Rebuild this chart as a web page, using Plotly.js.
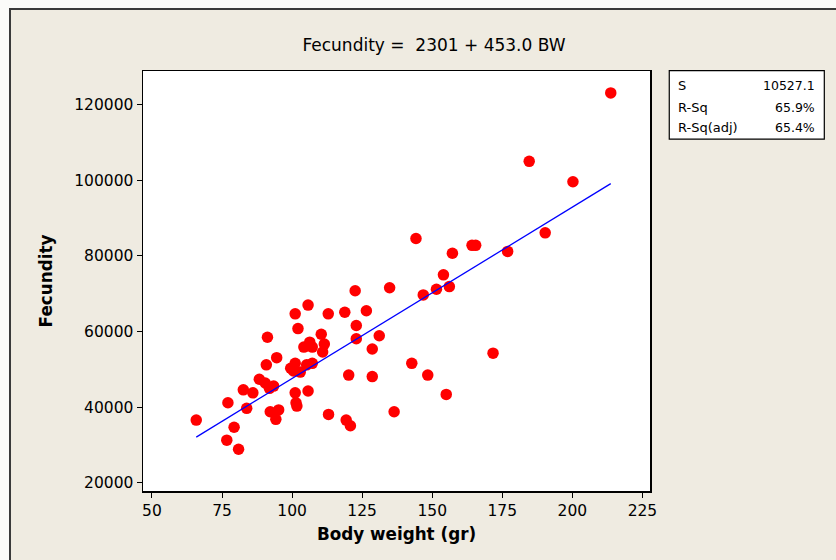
<!DOCTYPE html>
<html>
<head>
<meta charset="utf-8">
<script src="https://cdn.plot.ly/plotly-3.0.1.min.js"></script>
<style>
  html, body { margin: 0; padding: 0; background: #fbfbf9; }
  #frame { position: absolute; left: 9px; top: 8px; width: 840px; height: 560px;
           background: #EFEBE1; border: 2px solid #3a3a3a; }
  #chart { position: absolute; left: 0; top: 0; width: 836px; height: 560px; }
</style>
</head>
<body>
<div id="frame"></div>
<div id="chart"></div>
<script>
// Body weight (gr)
const bodyWeight = [
  65.8, 77.1, 79.3, 76.7, 80.9, 82.6, 83.8, 86.0, 88.3, 90.4,
  91.9, 93.4, 92.2, 94.2, 95.2, 90.8, 91.2, 94.5, 99.5, 100.5,
  101.1, 102.9, 105.2, 107.2, 101.1, 105.7, 101.4, 101.7, 113.0, 101.1,
  105.7, 102.1, 112.9, 110.4, 111.5, 104.2, 106.3, 107.2, 110.9, 118.8,
  126.5, 122.9, 122.9, 131.1, 128.6, 120.2, 128.6, 119.3, 120.8, 122.5,
  134.8, 136.4, 142.7, 148.4, 155.0, 144.2, 146.8, 151.5, 154.0, 156.1,
  157.2, 164.2, 165.5, 171.7, 176.9, 190.3, 184.6, 200.2, 213.7
];
// Fecundity
const fecundity = [
  36600, 41200, 34700, 31300, 28900, 44600, 39700, 43800, 47400, 46400,
  45000, 45600, 38800, 36800, 39300, 51200, 58500, 53100, 50300, 49600,
  51600, 49300, 51200, 51600, 43800, 44300, 41200, 40300, 38100, 64700,
  67000, 60800, 64700, 59300, 56700, 55900, 57200, 55900, 54600, 65100,
  65500, 61600, 58100, 58900, 55400, 48500, 48100, 36600, 35100, 70800,
  71600, 38800, 51600, 48500, 43400, 84600, 69700, 71200, 75000, 71900,
  80700, 82800, 82800, 54300, 81200, 86100, 105000, 99600, 123100
];
// Fitted regression (from the equation shown in the title)
const intercept = 2301;
const slope = 453.0;
const statLabels = ["S", "R-Sq", "R-Sq(adj)"];
const statValues = ["10527.1", "65.9%", "65.4%"];
const xTicks = [50, 75, 100, 125, 150, 175, 200, 225];
const yTicks = [20000, 40000, 60000, 80000, 100000, 120000];

const xMin = Math.min(...bodyWeight), xMax = Math.max(...bodyWeight);
const fitX = [xMin, xMax];
const fitY = fitX.map(v => intercept + slope * v);

const FONT = "DejaVu Sans, Verdana, sans-serif";

const traces = [
  { x: bodyWeight, y: fecundity, mode: "markers", type: "scatter",
    marker: { color: "#FF0000", size: 11.5 }, hoverinfo: "x+y", showlegend: false },
  { x: fitX, y: fitY, mode: "lines", type: "scatter",
    line: { color: "#0000FF", width: 1.3 }, hoverinfo: "skip", showlegend: false }
];

const rowY = [0.965, 0.9136, 0.865];
const annotations = [];
statLabels.forEach((t, i) => {
  annotations.push({ xref: "paper", yref: "paper", x: 1.0513, y: rowY[i],
    xanchor: "left", yanchor: "middle", text: t, showarrow: false,
    font: { family: FONT, size: 13, color: "#000" } });
  annotations.push({ xref: "paper", yref: "paper", x: 1.3288, y: rowY[i],
    xanchor: "right", yanchor: "middle", text: statValues[i], showarrow: false,
    font: { family: FONT, size: 12.5, color: "#000" } });
});

const layout = {
  width: 836, height: 560,
  margin: { l: 143, r: 186, t: 71, b: 69, pad: 0 },
  paper_bgcolor: "rgba(0,0,0,0)",
  plot_bgcolor: "#FFFFFF",
  font: { family: FONT, size: 15, color: "#000" },
  title: { text: "Fecundity =  2301 + 453.0 BW", xref: "paper", x: 0.574, xanchor: "center",
           yref: "container", y: 1 - 45/560, yanchor: "middle",
           font: { family: FONT, size: 17, color: "#000" } },
  xaxis: {
    range: [46.8, 227.7], tickvals: xTicks, ticktext: xTicks.map(String),
    ticks: "outside", ticklen: 5, tickwidth: 1, tickcolor: "#000",
    showline: true, linecolor: "#000", linewidth: 1.5, mirror: true,
    showgrid: false, zeroline: false,
    tickfont: { family: FONT, size: 15.5, color: "#000" },
    title: { text: "<b>Body weight (gr)</b>", standoff: 9,
             font: { family: FONT, size: 16.8, color: "#000" } }
  },
  yaxis: {
    range: [17857, 128889], tickvals: yTicks, ticktext: yTicks.map(String),
    ticks: "outside", ticklen: 5, tickwidth: 1, tickcolor: "#000",
    showline: true, linecolor: "#000", linewidth: 1.5, mirror: true,
    showgrid: false, zeroline: false,
    tickfont: { family: FONT, size: 15.5, color: "#000" },
    title: { text: "<b>Fecundity</b>", standoff: 17,
             font: { family: FONT, size: 16.8, color: "#000" } }
  },
  shapes: [
    { type: "rect", xref: "paper", yref: "paper", x0: 1.038, x1: 1.3438, y0: 0.838, y1: 1.0007,
      line: { color: "#000", width: 1.2 }, fillcolor: "#FFFFFF", layer: "above" }
  ],
  annotations: annotations,
  showlegend: false
};

Plotly.newPlot("chart", traces, layout, { displayModeBar: false, staticPlot: true });
</script>
</body>
</html>
